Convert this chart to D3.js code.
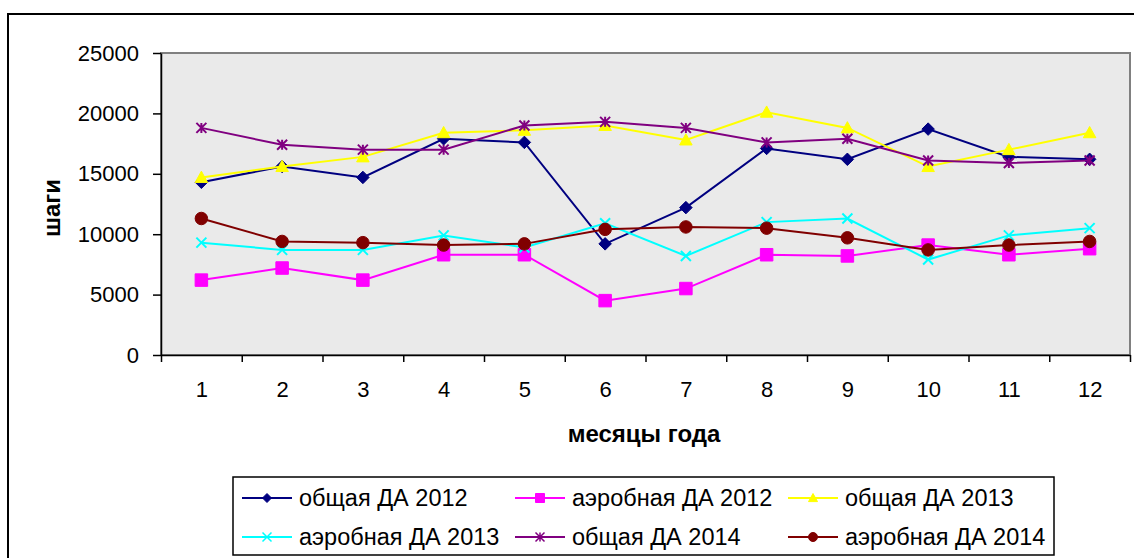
<!DOCTYPE html>
<html>
<head>
<meta charset="utf-8">
<script src="https://cdn.jsdelivr.net/npm/d3@7"></script>
<style>
  body { margin: 0; background: #fff; }
  svg { display: block; font-family: "Liberation Sans", Arial, sans-serif; }
  .axis path, .axis line { stroke: #000; stroke-width: 1.5; }
  .axis text { font-size: 22px; fill: #000; }
  .axis-title { font-size: 24px; font-weight: bold; }
  .legend text { font-size: 23.5px; }
</style>
</head>
<body>
<svg id="chart"></svg>
<script>
// months on the x axis
const months = [1, 2, 3, 4, 5, 6, 7, 8, 9, 10, 11, 12];
const yTicks = [0, 5000, 10000, 15000, 20000, 25000];

// series values (steps per month)
const obsh2012 = [14300, 15600, 14700, 17900, 17600, 9200, 12200, 17100, 16200, 18700, 16400, 16200];
const aero2012 = [6200, 7200, 6200, 8300, 8300, 4500, 5500, 8300, 8200, 9100, 8300, 8800];
const obsh2013 = [14700, 15600, 16400, 18400, 18600, 19000, 17800, 20100, 18800, 15600, 17000, 18400];
const aero2013 = [9300, 8700, 8700, 9900, 8900, 10900, 8200, 11000, 11300, 7900, 9900, 10500];
const obsh2014 = [18800, 17400, 17000, 17000, 19000, 19300, 18800, 17600, 17900, 16100, 15900, 16100];
const aero2014 = [11300, 9400, 9300, 9100, 9200, 10400, 10600, 10500, 9700, 8700, 9100, 9400];

const seriesNames = ['общая ДА 2012', 'аэробная ДА 2012', 'общая ДА 2013',
  'аэробная ДА 2013', 'общая ДА 2014', 'аэробная ДА 2014'];
const seriesValues = [obsh2012, aero2012, obsh2013, aero2013, obsh2014, aero2014];
const seriesColors = ['#000080', '#ff00ff', '#ffff00', '#00ffff', '#800080', '#800000'];
const seriesMarkers = ['diamond', 'square', 'triangle', 'x', 'star', 'circle'];

const width = 1134, height = 558;
const plot = { left: 161, right: 1130, top: 53, bottom: 355 };

const svg = d3.select('#chart')
  .attr('width', width)
  .attr('height', height);

// outer chart frame (right and bottom edges fall outside the picture)
svg.append('rect')
  .attr('x', 8).attr('y', 14)
  .attr('width', 1140).attr('height', 560)
  .attr('fill', '#fff')
  .attr('stroke', '#000')
  .attr('stroke-width', 2);

// scales
const xScale = d3.scaleLinear()
  .domain([0.5, 12.5])
  .range([plot.left, plot.right]);

const yScale = d3.scaleLinear()
  .domain([0, 25000])
  .range([plot.bottom, plot.top]);

// plot background with grey top/right border
svg.append('rect')
  .attr('x', plot.left).attr('y', plot.top)
  .attr('width', plot.right - plot.left)
  .attr('height', plot.bottom - plot.top)
  .attr('fill', '#eaeaea')
  .attr('stroke', '#808080')
  .attr('stroke-width', 2);

// y axis
svg.append('g')
  .attr('class', 'axis y-axis')
  .attr('transform', `translate(${plot.left},0)`)
  .call(d3.axisLeft(yScale)
    .tickValues(yTicks)
    .tickSize(8)
    .tickPadding(14)
    .tickSizeOuter(0)
    .tickFormat(d3.format('d')));

// x axis: ticks at category boundaries
svg.append('g')
  .attr('class', 'axis x-axis')
  .attr('transform', `translate(0,${plot.bottom})`)
  .call(d3.axisBottom(xScale)
    .tickValues(d3.range(0.5, 13, 1))
    .tickSize(7)
    .tickSizeOuter(0)
    .tickFormat(''));

// x labels at category centres
svg.append('g')
  .attr('class', 'axis x-labels')
  .attr('transform', `translate(0,${plot.bottom})`)
  .call(d3.axisBottom(xScale).tickValues(months).tickSize(0).tickPadding(26).tickFormat(d3.format('d')))
  .call(g => g.select('.domain').remove());

// axis titles
svg.append('text')
  .attr('class', 'axis-title')
  .attr('x', 644)
  .attr('y', 442)
  .attr('text-anchor', 'middle')
  .text('месяцы года');

svg.append('text')
  .attr('class', 'axis-title')
  .attr('transform', 'translate(60,208) rotate(-90)')
  .attr('text-anchor', 'middle')
  .text('шаги');

// marker shapes
function markerPath(type, s) {
  const h = s / 2;
  switch (type) {
    case 'diamond': return `M0,${-h}L${h},0L0,${h}L${-h},0Z`;
    case 'square': return `M${-h},${-h}H${h}V${h}H${-h}Z`;
    case 'triangle': return `M0,${-h}L${h},${h * 0.8}L${-h},${h * 0.8}Z`;
    case 'x': return `M${-h},${-h}L${h},${h}M${-h},${h}L${h},${-h}`;
    case 'star': return `M${-h},${-h}L${h},${h}M${-h},${h}L${h},${-h}M0,${-h}V${h}`;
    case 'circle': return d3.symbol(d3.symbolCircle, Math.PI * h * h)();
  }
}
const openMarker = t => t === 'x' || t === 'star';

const line = d3.line()
  .x(d => xScale(d.month))
  .y(d => yScale(d.value));

seriesValues.forEach((vals, i) => {
  const data = months.map((m, j) => ({ month: m, value: vals[j] }));
  const g = svg.append('g').attr('class', 'series');
  g.append('path')
    .datum(data)
    .attr('fill', 'none')
    .attr('stroke', seriesColors[i])
    .attr('stroke-width', 2)
    .attr('d', line);

  const type = seriesMarkers[i];
  const size = openMarker(type) ? 10 : 12.5;
  g.selectAll('.marker')
    .data(data)
    .join('path')
    .attr('class', 'marker')
    .attr('transform', d => `translate(${xScale(d.month)},${yScale(d.value)})`)
    .attr('d', markerPath(type, size))
    .attr('fill', openMarker(type) ? 'none' : seriesColors[i])
    .attr('stroke', seriesColors[i])
    .attr('stroke-width', openMarker(type) ? 2 : 1);
});

// legend
const legend = svg.append('g').attr('class', 'legend');
legend.append('rect')
  .attr('x', 233).attr('y', 477)
  .attr('width', 821).attr('height', 78)
  .attr('fill', '#fff')
  .attr('stroke', '#000')
  .attr('stroke-width', 1.5);

seriesNames.forEach((name, i) => {
  const col = i % 3, row = Math.floor(i / 3);
  const lx = 242 + col * 273, ly = 498 + row * 39;
  const item = legend.append('g').attr('transform', `translate(${lx},${ly})`);
  item.append('line')
    .attr('x1', 0).attr('x2', 50)
    .attr('stroke', seriesColors[i])
    .attr('stroke-width', 2);
  const type = seriesMarkers[i];
  item.append('path')
    .attr('transform', 'translate(25,0)')
    .attr('d', markerPath(type, 9))
    .attr('fill', openMarker(type) ? 'none' : seriesColors[i])
    .attr('stroke', seriesColors[i])
    .attr('stroke-width', openMarker(type) ? 1.5 : 1);
  item.append('text')
    .attr('x', 57)
    .attr('dy', '0.35em')
    .text(name);
});
</script>
</body>
</html>
